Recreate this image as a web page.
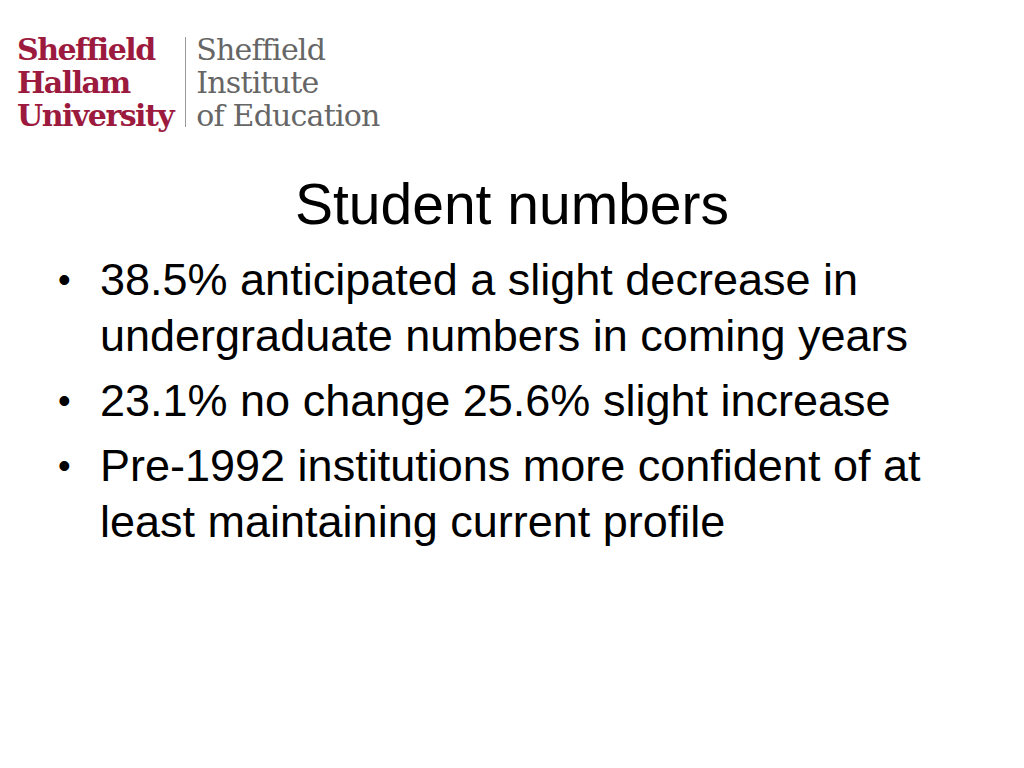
<!DOCTYPE html>
<html><head><meta charset="utf-8">
<script src="https://cdn.jsdelivr.net/npm/chart.js@4"></script>
<style>
body{margin:0;width:1024px;height:768px;background:#fff;font-family:"Liberation Sans",Arial,sans-serif;overflow:hidden;position:relative}
#logo{position:absolute;left:17px;top:33px;display:flex}
#shu{font-family:"DejaVu Serif",serif;font-weight:bold;color:#9c1a3e;font-size:30px;line-height:33px;letter-spacing:-1.5px}
#bar{width:1px;background:#999;margin:4px 10px 0 12px;height:90px}
#sie{font-family:"DejaVu Serif",serif;color:#666;font-size:30px;line-height:33px;letter-spacing:-0.8px}
h1{position:absolute;top:171px;left:0;width:1024px;text-align:center;margin:0;font-weight:normal;font-size:57px;color:#000}
ul{position:absolute;top:252px;left:58px;margin:0;padding:0;list-style:none;font-size:45px;line-height:56px;width:890px}
li{position:relative;padding-left:42px;margin-bottom:9px}
li:before{content:"•";position:absolute;left:0;font-size:36px}
</style></head><body>
<div id="logo">
 <div id="shu">Sheffield<br>Hallam<br>University</div>
 <div id="bar"></div>
 <div id="sie">Sheffield<br>Institute<br>of Education</div>
</div>
<h1 id="title"></h1>
<ul id="points"></ul>
<script>
// slide content
const title = "Student numbers";
const outcomes = ["slight decrease", "no change", "slight increase"];
const shares = [38.5, 23.1, 25.6];

document.getElementById("title").innerText = title;

const items = [
  shares[0] + "% anticipated a " + outcomes[0] + " in undergraduate numbers in coming years",
  shares[1] + "% " + outcomes[1] + " " + shares[2] + "% " + outcomes[2],
  "Pre-1992 institutions more confident of at least maintaining current profile"
];
document.getElementById("points").innerHTML = items.map(t => `<li>${t}</li>`).join("");
</script>
</body></html>
